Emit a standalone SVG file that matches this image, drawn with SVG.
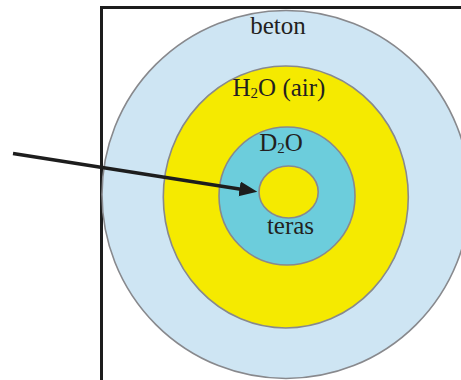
<svg xmlns="http://www.w3.org/2000/svg" width="461" height="380" viewBox="0 0 461 380">
  <style>
    .ring { stroke: #88898d; stroke-width: 1.6; }
    .lbl { font-family: "Liberation Serif", "Times New Roman", serif; font-size: 25px; fill: #231f20; text-anchor: middle; }
    .sub { font-size: 15px; }
    .conn { stroke: #1d1d1d; stroke-width: 3.5; fill: none; }
  </style>
  <defs>
    <marker id="ah" markerUnits="userSpaceOnUse" markerWidth="19" markerHeight="16" refX="3" refY="7.5" orient="auto">
      <path d="M0,0 L18,7.5 L0,15 Z" fill="#1d1d1d"/>
    </marker>
  </defs>
  <rect width="461" height="380" fill="#ffffff"/>
  <g id="frame">
    <path d="M101.5,390 L101.5,7.5 L470,7.5" fill="none" stroke="#1d1d1d" stroke-width="3"/>
  </g>
  <g id="beton">
    <circle class="ring" cx="286" cy="194.5" r="184" fill="#cee5f3"/>
    <text class="lbl" x="278" y="34">beton</text>
  </g>
  <g id="air">
    <ellipse class="ring" cx="285.8" cy="197" rx="122.5" ry="131" fill="#f5ea00"/>
    <text class="lbl" x="279" y="96">H<tspan class="sub" dy="1.5">2</tspan><tspan dy="-1.5">O (air)</tspan></text>
  </g>
  <g id="d2o">
    <ellipse class="ring" cx="287" cy="196" rx="68" ry="69" fill="#6ccddc"/>
    <text class="lbl" x="281" y="151">D<tspan class="sub" dy="1.5">2</tspan><tspan dy="-1.5">O</tspan></text>
  </g>
  <g id="teras">
    <ellipse class="ring" cx="288.6" cy="192" rx="29.6" ry="26" fill="#f5ea00"/>
    <text class="lbl" x="290.5" y="234">teras</text>
  </g>
  <g id="connectors">
    <line class="conn" x1="13" y1="153.5" x2="242.5" y2="189.4" marker-end="url(#ah)"/>
  </g>
</svg>
